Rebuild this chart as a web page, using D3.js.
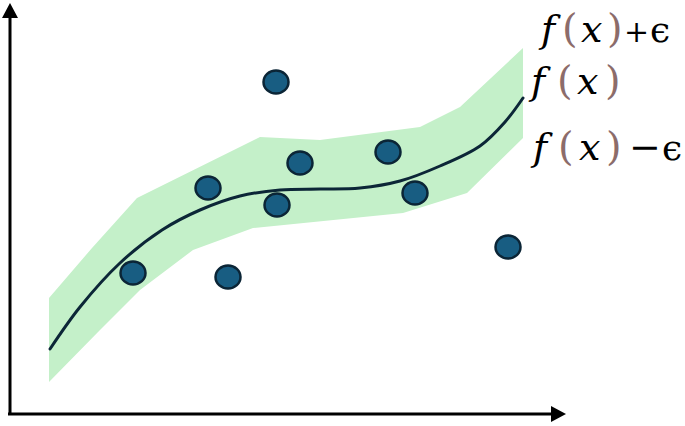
<!DOCTYPE html>
<html>
<head>
<meta charset="utf-8">
<script src="https://cdn.jsdelivr.net/npm/d3@7"></script>
<style>
body { margin: 0; background: #ffffff; }
</style>
</head>
<body>
<div id="chart"></div>
<script>
// f(x) curve samples
var curve_x = [4.0, 7.0, 11.0, 15.2, 19.0, 23.0, 27.0, 31.0, 35.0, 39.0, 43.0, 47.0, 49.5, 51.3];
var curve_y = [6.4, 10.6, 15.0, 18.3, 20.3, 21.7, 22.3, 22.4, 22.5, 23.2, 24.7, 26.7, 29.1, 31.5];
// f(x)+eps edge
var upper_x = [3.9, 8.2, 12.7, 25.0, 31.0, 41.0, 45.0, 51.3];
var upper_y = [11.5, 16.5, 21.5, 27.6, 27.3, 28.6, 30.6, 36.5];
// f(x)-eps edge
var lower_x = [3.9, 9.0, 13.0, 18.3, 24.3, 39.3, 45.7, 51.3];
var lower_y = [3.1, 8.3, 12.3, 16.3, 18.5, 20.0, 22.0, 27.5];
// data points
var point_x = [26.6, 19.8, 29.0, 37.8, 26.7, 40.5, 12.3, 21.8, 49.8];
var point_y = [33.1, 22.5, 25.0, 26.1, 20.8, 22.0, 14.0, 13.6, 16.6];
// labels
var label_rows = [
    ["f", "(", "x", ")", "+", "ϵ"],
    ["f", "(", "x", ")"],
    ["f", "(", "x", ")", "−", "ϵ"]
];

var svg_width = 685, svg_height = 426;
var svg = d3.select('#chart').append('svg')
    .attr('width', svg_width)
    .attr('height', svg_height);

var x = d3.scaleLinear().domain([0, 55]).range([10, 560]);
var y = d3.scaleLinear().domain([0, 40]).range([413, 13]);

// band polygon: upper edge then lower edge reversed
var band = [];
var i;
for (i = 0; i < upper_x.length; i++) band.push([upper_x[i], upper_y[i]]);
for (i = lower_x.length - 1; i >= 0; i--) band.push([lower_x[i], lower_y[i]]);

svg.append('path')
    .attr('d', d3.line().x(function (d) { return x(d[0]); }).y(function (d) { return y(d[1]); })(band) + 'Z')
    .attr('fill', '#c4f0c9');

// curve
var curve_pts = curve_x.map(function (v, j) { return [v, curve_y[j]]; });
svg.append('path')
    .attr('d', d3.line()
        .x(function (d) { return x(d[0]); })
        .y(function (d) { return y(d[1]); })
        .curve(d3.curveCatmullRom.alpha(0.5))(curve_pts))
    .attr('fill', 'none')
    .attr('stroke', '#0c2637')
    .attr('stroke-width', 3)
    .attr('stroke-linecap', 'round');

// points
svg.selectAll('ellipse.pt')
    .data(point_x.map(function (v, j) { return [v, point_y[j]]; }))
    .enter().append('ellipse')
    .attr('class', 'pt')
    .attr('cx', function (d) { return x(d[0]); })
    .attr('cy', function (d) { return y(d[1]); })
    .attr('rx', 12.5)
    .attr('ry', 11.5)
    .attr('fill', '#185d82')
    .attr('stroke', '#0b2536')
    .attr('stroke-width', 2.5);

// axes with arrow heads
var x0 = x(0), y0 = y(0) + 1;
svg.append('line')
    .attr('x1', x0).attr('y1', y0 + 1)
    .attr('x2', x0).attr('y2', y(39.5))
    .attr('stroke', '#000').attr('stroke-width', 3);
svg.append('path')
    .attr('d', 'M' + x0 + ',' + (y(39.5) - 15) + 'L' + (x0 - 8) + ',' + y(39.5) + 'L' + (x0 + 8) + ',' + y(39.5) + 'Z')
    .attr('fill', '#000');
svg.append('line')
    .attr('x1', x0 - 2).attr('y1', y0)
    .attr('x2', x(54.1)).attr('y2', y0)
    .attr('stroke', '#000').attr('stroke-width', 3);
svg.append('path')
    .attr('d', 'M' + (x(54.1) + 15) + ',' + y0 + 'L' + x(54.1) + ',' + (y0 - 8) + 'L' + x(54.1) + ',' + (y0 + 8) + 'Z')
    .attr('fill', '#000');

// labels: glyph left edges, sizes and baselines
var row_x = [
    [541, 562, 581, 607, 624, 650],
    [531, 557, 577, 605],
    [533, 558, 579, 606, 629, 662]
];
var glyph_size = {'f': 38, 'x': 38, '(': 40, ')': 40, '+': 30, '−': 38, 'ϵ': 36};
var row_base = [42, 94, 160];
label_rows.forEach(function (row, r) {
    var t = svg.append('text')
        .attr('font-family', '"DejaVu Serif", serif');
    row.forEach(function (g, k) {
        var italic = (g === 'f' || g === 'x');
        var paren = (g === '(' || g === ')');
        t.append('tspan')
            .attr('x', row_x[r][k])
            .attr('y', row_base[r])
            .attr('font-size', glyph_size[g] + 'px')
            .attr('font-style', italic ? 'italic' : 'normal')
            .attr('fill', paren ? '#8c6c6a' : '#000')
            .text(g);
    });
});
</script>
</body>
</html>
